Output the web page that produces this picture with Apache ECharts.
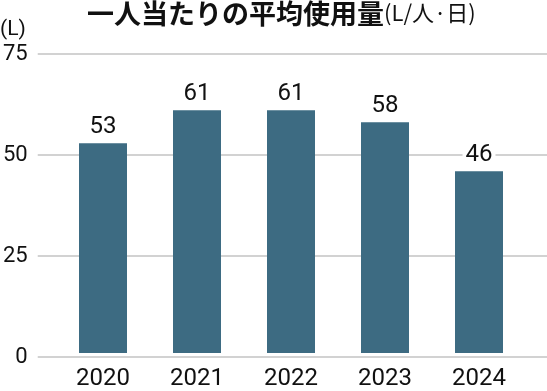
<!DOCTYPE html>
<html><head><meta charset="utf-8">
<script src="https://cdn.jsdelivr.net/npm/echarts@6/dist/echarts.min.js"></script>
<style>html,body{margin:0;padding:0;background:#fff}#c{width:547px;height:391px}</style>
</head><body><div id="c"></div>
<script>
const categories = ['2020', '2021', '2022', '2023', '2024'];
const values = [52.6, 60.9, 60.9, 57.9, 45.6];
const yTicks = [0, 25, 50, 75];
const titleMain = '一人当たりの平均使用量';
const titleUnit = '(L/人·日)';
const unitLabel = '(L)';

const chart = echarts.init(document.getElementById('c'), null, {renderer: 'canvas'});
const numFont = 'Roboto, "Noto Sans", sans-serif';
const cjkFont = '"Noto Sans CJK JP", sans-serif';
chart.setOption({
  animation: false,
  graphic: [
    {type: 'text', left: 87, top: 0,
     style: {text: titleMain, fontFamily: cjkFont, fontWeight: 'bold', fontSize: 27, fill: '#111'}},
    {type: 'text', left: 384, top: 2,
     style: {text: titleUnit, fontFamily: cjkFont, fontWeight: 'normal', fontSize: 22, fill: '#111'}},
    {type: 'text', left: 0, top: 19,
     style: {text: unitLabel, fontFamily: numFont, fontSize: 21, fill: '#111'}}
  ],
  grid: [
    {left: 56, right: 21, top: 54, bottom: 34},
    {left: 35, right: 0, top: 54, bottom: 34}
  ],
  xAxis: [
    {type: 'category', gridIndex: 0, data: categories,
     axisLine: {show: false}, axisTick: {show: false},
     axisLabel: {fontFamily: numFont, fontSize: 24, color: '#111', margin: 14}},
    {type: 'category', gridIndex: 1, data: categories, show: false}
  ],
  yAxis: [
    {type: 'value', gridIndex: 0, min: 0, max: 75, interval: 25, show: false},
    {type: 'value', gridIndex: 1, min: yTicks[0], max: yTicks[yTicks.length - 1], interval: 25,
     axisLine: {show: false}, axisTick: {show: false},
     axisLabel: {fontFamily: numFont, fontSize: 22, color: '#111', margin: 10},
     splitLine: {lineStyle: {color: '#d2d2d2', width: 2}}}
  ],
  series: [{
    type: 'bar', xAxisIndex: 0, yAxisIndex: 0, data: values,
    barWidth: 48,
    itemStyle: {color: '#3d6b82'},
    label: {show: true, position: 'top', distance: 4, fontFamily: numFont, fontSize: 24, color: '#111',
            backgroundColor: '#fff', padding: [0, 3, 0, 3],
            formatter: p => String(Math.round(p.value))}
  }]
});
</script></body></html>
